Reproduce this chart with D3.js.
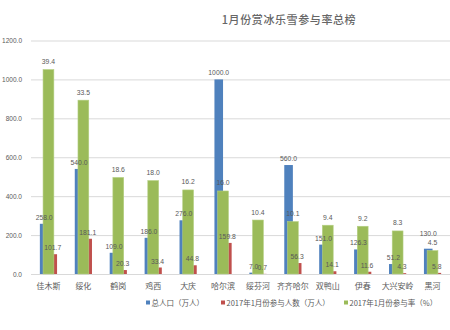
<!DOCTYPE html>
<html>
<head>
<meta charset="utf-8">
<script src="https://cdn.jsdelivr.net/npm/d3@7/dist/d3.min.js"></script>
<style>
  html, body { margin: 0; padding: 0; background: #fff; }
  svg { display: block; }
</style>
</head>
<body>
<script>
const categories = ["佳木斯", "绥化", "鹤岗", "鸡西", "大庆", "哈尔滨", "绥芬河", "齐齐哈尔", "双鸭山", "伊春", "大兴安岭", "黑河"];
const population = [258.0, 540.0, 109.0, 186.0, 276.0, 1000.0, 7.0, 560.0, 151.0, 126.3, 51.2, 130.0];
const participants = [101.7, 181.1, 20.3, 33.4, 44.8, 159.8, 0.7, 56.3, 14.1, 11.6, 4.3, 5.8];
const rate = [39.4, 33.5, 18.6, 18.0, 16.2, 16.0, 10.4, 10.1, 9.4, 9.2, 8.3, 4.5];
const leftTicks = [0, 200, 400, 600, 800, 1000, 1200];
const seriesNames = ["总人口（万人）", "2017年1月份参与人数（万人）", "2017年1月份参与率（%）"];
const titleText = "1月份赏冰乐雪参与率总榜";

const W = 450, H = 330;
const colors = ["#4f81bd", "#c0504d", "#9bbb59"];
const cjk = "'Noto Sans CJK SC', 'Noto Sans', sans-serif";
const num = "'Liberation Sans', 'DejaVu Sans', sans-serif";
const textColor = "#595959";

const svg = d3.select("body").append("svg").attr("width", W).attr("height", H);

const x = d3.scaleBand().domain(categories).range([31, 450]).padding(0);
const y = d3.scaleLinear().domain([0, 1200]).range([274, 40.5]);
const y2 = d3.scaleLinear().domain([0, 45]).range([274, 40.5]);

// title
svg.append("text").attr("x", 289).attr("y", 24).attr("text-anchor", "middle")
  .attr("font-family", cjk).attr("font-size", 11).attr("font-weight", 500)
  .attr("fill", "#666").attr("letter-spacing", 0.6).text(titleText);

// gridlines + left axis
const yAxis = d3.axisLeft(y).tickValues(leftTicks).tickSize(-(450 - 31)).tickPadding(9)
  .tickFormat(d3.format(".1f"));
const gy = svg.append("g").attr("transform", "translate(31,0)").call(yAxis);
gy.select(".domain").remove();
gy.selectAll(".tick line").attr("stroke", "#d9d9d9").attr("stroke-width", 1);
gy.selectAll(".tick text").attr("font-family", num).attr("font-size", 6.5).attr("fill", textColor);

// category axis
const xAxis = d3.axisBottom(x).tickSize(0).tickPadding(9);
const gx = svg.append("g").attr("transform", "translate(0,274)").call(xAxis);
gx.select(".domain").remove();
gx.selectAll(".tick text").attr("font-family", cjk).attr("font-size", 8).attr("fill", textColor);

const half = 8.6, gHalf = 5.4;
const cx = i => x(categories[i]) + x.bandwidth() / 2;
const fmt = d3.format(".1f");

// blue bars
svg.append("g").selectAll("rect").data(population).join("rect")
  .attr("x", (d, i) => cx(i) - half).attr("width", half)
  .attr("y", d => y(d)).attr("height", d => y(0) - y(d)).attr("fill", colors[0]);
// red bars
svg.append("g").selectAll("rect").data(participants).join("rect")
  .attr("x", (d, i) => cx(i)).attr("width", half)
  .attr("y", d => y(d)).attr("height", d => y(0) - y(d)).attr("fill", colors[1]);
// green bars (secondary axis) on top
svg.append("g").selectAll("rect").data(rate).join("rect")
  .attr("x", (d, i) => cx(i) - gHalf).attr("width", gHalf * 2)
  .attr("y", d => y2(d)).attr("height", d => y2(0) - y2(d)).attr("fill", colors[2])
  .attr("stroke", "#b4cf82").attr("stroke-width", 0.6);

// labels
const greenLabelY = d => y2(d) - 5.5;
const blueLabelY = (d, i) => {
  const yb = y(d) - 4, yg = greenLabelY(rate[i]);
  return Math.abs(yb - yg) < 8 ? yg - 9 : yb;   // avoid collision with rate label
};
const lbl = (g, data, xf, yf) => g.selectAll("text").data(data).join("text")
  .attr("x", xf).attr("y", yf).attr("text-anchor", "middle")
  .attr("font-family", num).attr("font-size", 6.8).attr("fill", textColor).text(d => fmt(d));
lbl(svg.append("g"), population, (d, i) => cx(i) - half / 2, blueLabelY);
lbl(svg.append("g"), participants, (d, i) => cx(i) + half / 2, d => y(d) - 4);
lbl(svg.append("g"), rate, (d, i) => cx(i), greenLabelY);

// legend
const legendX = [146, 221, 344];
const lg = svg.append("g").selectAll("g").data(seriesNames).join("g")
  .attr("transform", (d, i) => `translate(${legendX[i]},303)`);
lg.append("rect").attr("x", 0).attr("y", -2.5).attr("width", 4).attr("height", 4)
  .attr("fill", (d, i) => colors[i]);
lg.append("text").attr("x", 5.5).attr("y", 2.5).attr("font-family", cjk).attr("font-size", 7.5)
  .attr("fill", textColor).text(d => d);
</script>
</body>
</html>
